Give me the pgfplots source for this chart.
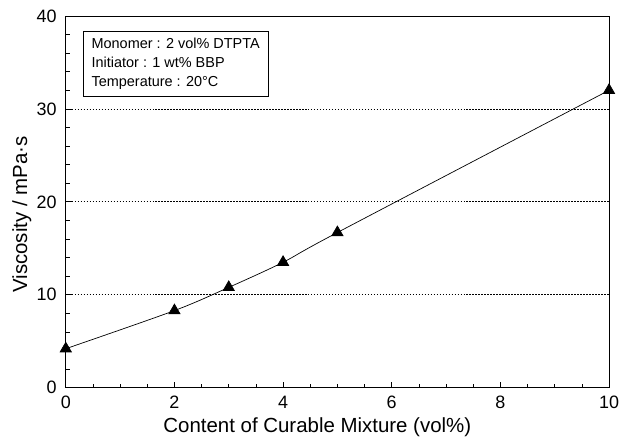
\documentclass[border=0pt]{standalone}
\usepackage{pgfplots}
\pgfplotsset{compat=1.18}
\usepackage{fontspec}
\setmainfont{Liberation Sans}
\begin{document}
\begin{tikzpicture}
\begin{axis}[
  scale only axis,
  width=545pt, height=373pt,
  xmin=0, xmax=10, ymin=0, ymax=40,
  xtick={0,2,...,10}, ytick={0,10,...,40},
  minor xtick={0.5,1,...,9.5},
  minor ytick={2,4,...,38},
  tick align=inside,
  xtick pos=bottom, ytick pos=left,
  major tick length=6pt, minor tick length=4pt,
  axis line style={line width=0.8pt},
  tick style={line width=0.7pt, black},
  ymajorgrids,
  major grid style={dash pattern=on 1.5pt off 1.5pt, line width=0.7pt, black},
  /pgf/number format/assume math mode=true,
  tick label style={font=\fontsize{18}{20}\selectfont, inner sep=0pt},
  xticklabel style={yshift=-8.5pt},
  yticklabel style={xshift=-9pt},
  xlabel={Content of Curable Mixture (vol\%)},
  ylabel={Viscosity / mPa·s},
  every axis x label/.style={at={(axis description cs:0.463,-0.107)}, anchor=center, inner sep=0pt},
  every axis y label/.style={at={(axis description cs:-0.0807,0.466)}, rotate=90, anchor=center, inner sep=0pt},
  label style={font=\fontsize{20.5}{24}\selectfont},
  clip=false,
]
\addplot[black, line width=0.7pt, smooth, tension=0.5, mark=triangle*, mark size=6.5pt, mark options={solid}]
  coordinates {(0,4.2) (2,8.3) (3,10.8) (4,13.5) (5,16.7) (10,32.0)};
\node[draw, line width=0.7pt, anchor=north west, align=left, inner sep=5pt,
      font=\fontsize{14.5}{19}\selectfont, minimum width=186pt, minimum height=65pt]
  at (axis cs:0.31,38.4) {Monomer : 2 vol\% DTPTA\\Initiator : 1 wt\% BBP\\Temperature : 20°C};
\path (rel axis cs:0,0) ++(-66pt,-50pt) (rel axis cs:1,1) ++(8pt,16pt);
\end{axis}
\end{tikzpicture}
\end{document}
